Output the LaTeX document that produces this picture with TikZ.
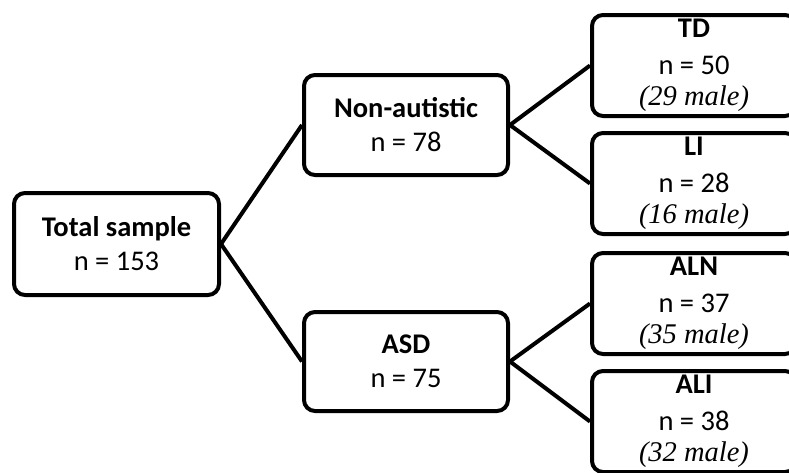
\documentclass[tikz,border=0pt]{standalone}
\usepackage{fontspec}
\setmainfont{Carlito}
\newfontfamily\malefont{Liberation Serif}
\newcommand{\males}[1]{{\malefont\itshape (#1 male)}}
\begin{document}
\begin{tikzpicture}[x=1pt,y=-1pt,
    box/.style={draw,line width=4pt,rounded corners=11pt,minimum width=204pt,minimum height=100pt,inner sep=0pt,align=center,font=\fontsize{28.5}{34}\selectfont},
    leaf/.style={box,minimum height=101pt,font=\fontsize{28.5}{37}\selectfont},
    link/.style={line width=4pt}]
    \useasboundingbox (0,0) rectangle (789,472);
    \clip (0,0) rectangle (789,472);
    \node[box,minimum width=205pt,minimum height=102pt] (total) at (116.5,244) {\textbf{Total sample}\\n = 153};
    \node[box] (nonaut) at (406,125) {\textbf{Non-autistic}\\n = 78};
    \node[box,minimum height=99pt] (asd) at (406,361.5) {\textbf{ASD}\\n = 75};
    \node[leaf] (td) at (694,65.5) {\textbf{TD}\\n = 50\\[-6pt]\males{29}};
    \node[leaf] (li) at (694,183.5) {\textbf{LI}\\n = 28\\[-6pt]\males{16}};
    \node[leaf] (aln) at (694,303.5) {\textbf{ALN}\\n = 37\\[-6pt]\males{35}};
    \node[leaf] (ali) at (694,421.5) {\textbf{ALI}\\n = 38\\[-6pt]\males{32}};
    \draw[link] (total.east) -- (nonaut.west);
    \draw[link] (total.east) -- (asd.west);
    \draw[link] (nonaut.east) -- (td.west);
    \draw[link] (nonaut.east) -- (li.west);
    \draw[link] (asd.east) -- (aln.west);
    \draw[link] (asd.east) -- (ali.west);
\end{tikzpicture}
\end{document}
